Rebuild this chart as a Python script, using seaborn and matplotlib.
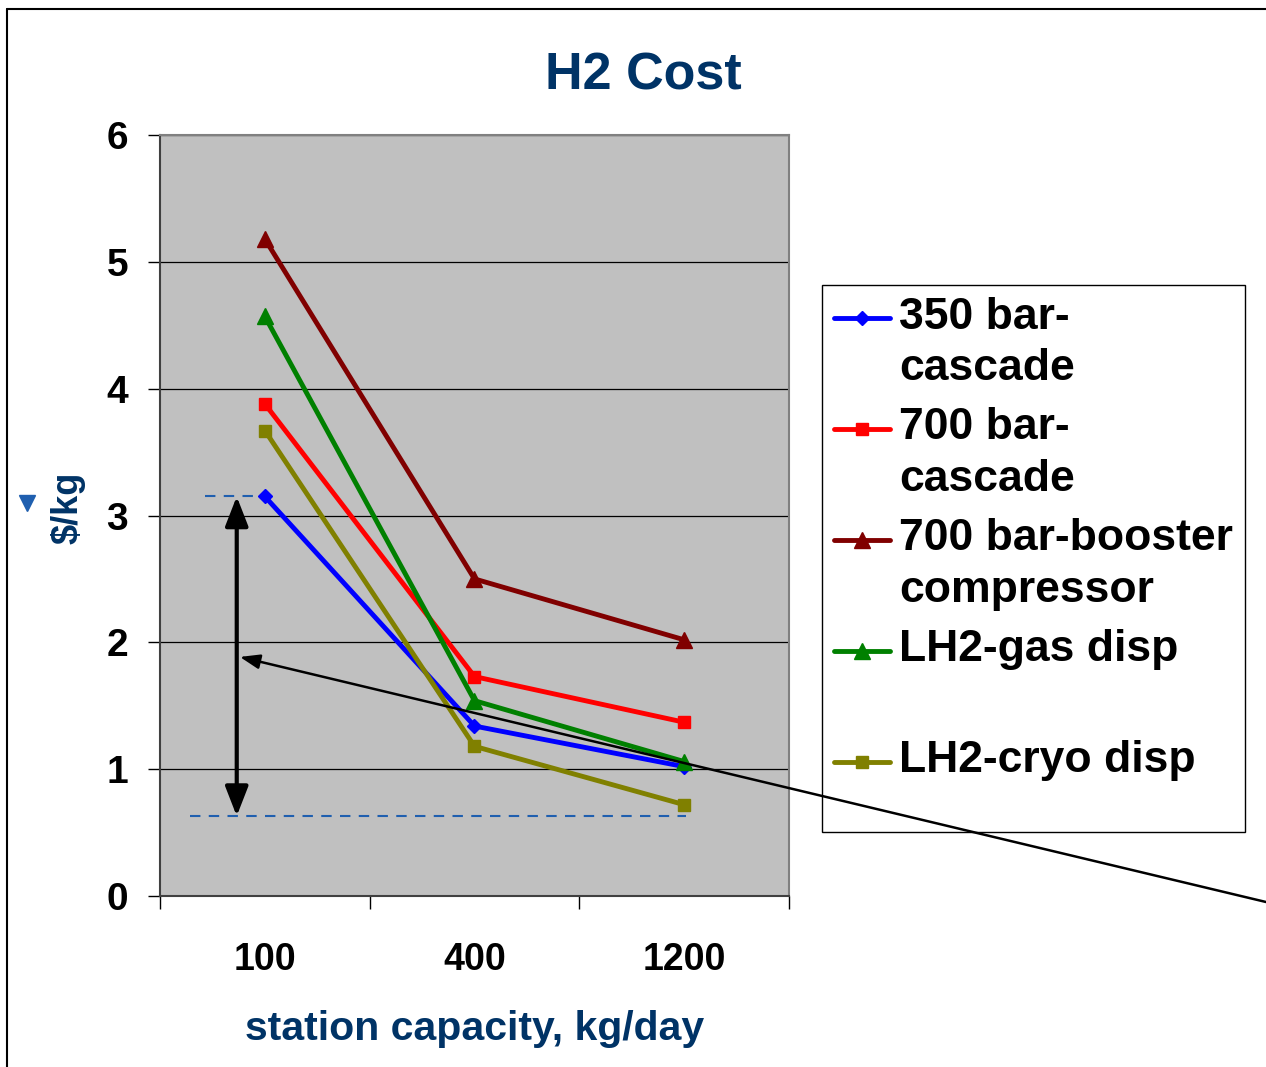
import numpy as np
import pandas as pd
import matplotlib
matplotlib.use('Agg')
import matplotlib.pyplot as plt
import seaborn as sns
from matplotlib.lines import Line2D
from matplotlib.legend_handler import HandlerLine2D

# ---------------- data ----------------
capacities = ['100', '400', '1200']
series_names = ['350 bar-cascade', '700 bar-cascade', '700 bar-booster compressor',
                'LH2-gas disp', 'LH2-cryo disp']
legend_labels = ['350 bar-\ncascade', '700 bar-\ncascade', '700 bar-booster\ncompressor',
                 'LH2-gas disp\n ', 'LH2-cryo disp\n ']
cost_350_cascade = [3.15, 1.34, 1.02]
cost_700_cascade = [3.88, 1.73, 1.37]
cost_700_booster = [5.18, 2.50, 2.02]
cost_lh2_gas = [4.57, 1.54, 1.06]
cost_lh2_cryo = [3.67, 1.18, 0.72]
y_ticks = [0, 1, 2, 3, 4, 5, 6]
spread_top = 3.15
spread_bottom = 0.63

title_text = 'H2 Cost'
xlabel_text = 'station capacity, kg/day'
ylabel_text = '$/kg'

# ---------------- style ----------------
sns.set_theme(style='white')
plt.rcParams['font.family'] = ['Liberation Sans', 'DejaVu Sans']
plt.rcParams['font.weight'] = 'bold'
plt.rcParams['text.color'] = 'black'
plt.rcParams['axes.labelcolor'] = 'black'
plt.rcParams['xtick.color'] = 'black'
plt.rcParams['ytick.color'] = 'black'

navy = '#003366'
colors = ['#0000FF', '#FF0000', '#800000', '#008000', '#808000']
markers = ['D', 's', '^', '^', 's']
msizes = [7, 9, 11, 11, 9]

W, H = 1266, 1067
fig = plt.figure(figsize=(W / 100, H / 100), dpi=100)
ax = fig.add_axes([160 / W, 1 - 896 / H, 629 / W, 761 / H])
ax.set_facecolor('#C0C0C0')

x = np.arange(len(capacities))
all_series = [cost_350_cascade, cost_700_cascade, cost_700_booster, cost_lh2_gas, cost_lh2_cryo]
handles = []
for name, vals, c, m, ms in zip(series_names, all_series, colors, markers, msizes):
    df = pd.DataFrame({'capacity_pos': x, 'cost': vals})
    sns.lineplot(data=df, x='capacity_pos', y='cost', color=c, marker=m, markersize=ms,
                 markeredgecolor=c, markeredgewidth=1, linewidth=3.5, ax=ax,
                 errorbar=None, legend=False, zorder=3)
    handles.append(ax.lines[-1])

ax.set_xlim(-0.5, len(capacities) - 0.5)
ax.set_ylim(y_ticks[0], y_ticks[-1])

# x ticks: marks at category boundaries, labels at centers
ax.set_xticks(np.arange(len(capacities) + 1) - 0.5)
ax.set_xticklabels([])
ax.set_xticks(x, minor=True)
ax.set_xticklabels(capacities, minor=True)
ax.tick_params(axis='x', which='major', bottom=True, length=9, width=1, direction='out', color='black')
ax.tick_params(axis='x', which='minor', bottom=True, length=0, pad=33, labelsize=27)
ax.set_yticks(y_ticks)
ax.set_yticklabels([str(v) for v in y_ticks])
ax.tick_params(axis='y', left=True, length=9, width=1, direction='out', color='black', pad=14, labelsize=28)
for lab in ax.get_xticklabels(minor=True) + ax.get_yticklabels():
    lab.set_fontweight('bold')

ax.yaxis.grid(True, color='black', lw=0.9)
ax.xaxis.grid(False)
ax.set_axisbelow(True)
for side, col in [('top', '#808080'), ('right', '#808080'), ('left', '#404040'), ('bottom', '#404040')]:
    ax.spines[side].set_visible(True)
    ax.spines[side].set_color(col)
    ax.spines[side].set_linewidth(1.5)

ax.set_xlabel(xlabel_text, fontsize=29.5, fontweight='bold', color=navy)
ax.xaxis.set_label_coords(0.5, -0.15)
ax.set_ylabel(ylabel_text, fontsize=26, fontweight='bold', color=navy)
ax.yaxis.set_label_coords(-0.119, 0.51)

fig.text(643 / W, 1 - 76 / H, title_text, ha='center', va='center', fontsize=37.5,
         fontweight='bold', color=navy)

# ---------------- annotations ----------------
dash_col = '#1F5FAF'
ax.plot([-0.286, -0.033], [spread_top, spread_top], ls=(0, (5, 4)), color=dash_col, lw=1.5, zorder=2)
ax.plot([-0.358, 2.008], [spread_bottom, spread_bottom], ls=(0, (5, 4)), color=dash_col, lw=1.5, zorder=2)
ax.annotate('', xy=(-0.134, spread_bottom), xytext=(-0.134, spread_top),
            arrowprops=dict(arrowstyle='<|-|>,head_length=0.9,head_width=0.35', mutation_scale=20,
                            lw=3, color='black', shrinkA=0, shrinkB=0), zorder=4)
ax.annotate('', xy=(-0.119, 1.885), xycoords='data', xytext=(1.0, 1 - 902 / H),
            textcoords='figure fraction',
            arrowprops=dict(arrowstyle='-|>,head_length=0.6,head_width=0.22', mutation_scale=20,
                            lw=1.8, color='black', shrinkA=0, shrinkB=0),
            annotation_clip=False, zorder=7)

# ---------------- legend ----------------
class TopAlignedHandler(HandlerLine2D):
    def __init__(self, shift, **kw):
        super().__init__(**kw)
        self._shift = shift

    def create_artists(self, legend, orig_handle, xdescent, ydescent, width, height, fontsize, trans):
        arts = super().create_artists(legend, orig_handle, xdescent, ydescent, width, height, fontsize, trans)
        for a in arts:
            a.set_ydata(np.asarray(a.get_ydata(), float) + self._shift)
        return arts

hmap = {Line2D: TopAlignedHandler(18), handles[-1]: TopAlignedHandler(13)}
leg = ax.legend(handles, legend_labels, handler_map=hmap,
                loc='upper left', bbox_to_anchor=(822 / W, 1 - 285 / H), bbox_transform=fig.transFigure,
                borderaxespad=0, prop={'size': 32, 'weight': 'bold'}, frameon=True, fancybox=False,
                edgecolor='black', facecolor='white', framealpha=1, handlelength=1.28,
                handletextpad=0.2, labelspacing=0.41, borderpad=0.26)
leg.get_frame().set_linewidth(1)
leg.set_zorder(5)
texts = leg.get_texts()
for t in texts:
    t.set_linespacing(1.33)
texts[-1].set_linespacing(0.96)

# ---------------- figure frame & artifact ----------------
fig.add_artist(Line2D([7 / W, 7 / W], [0, 1 - 9 / H], transform=fig.transFigure, color='black', lw=1.5))
fig.add_artist(Line2D([7 / W, 1], [1 - 9 / H, 1 - 9 / H], transform=fig.transFigure, color='black', lw=1.5))
fig.add_artist(Line2D([27 / W], [1 - 503 / H], marker='v', ms=11, color=dash_col, ls='none',
                      transform=fig.transFigure))

fig.savefig('out.png', dpi=100)
